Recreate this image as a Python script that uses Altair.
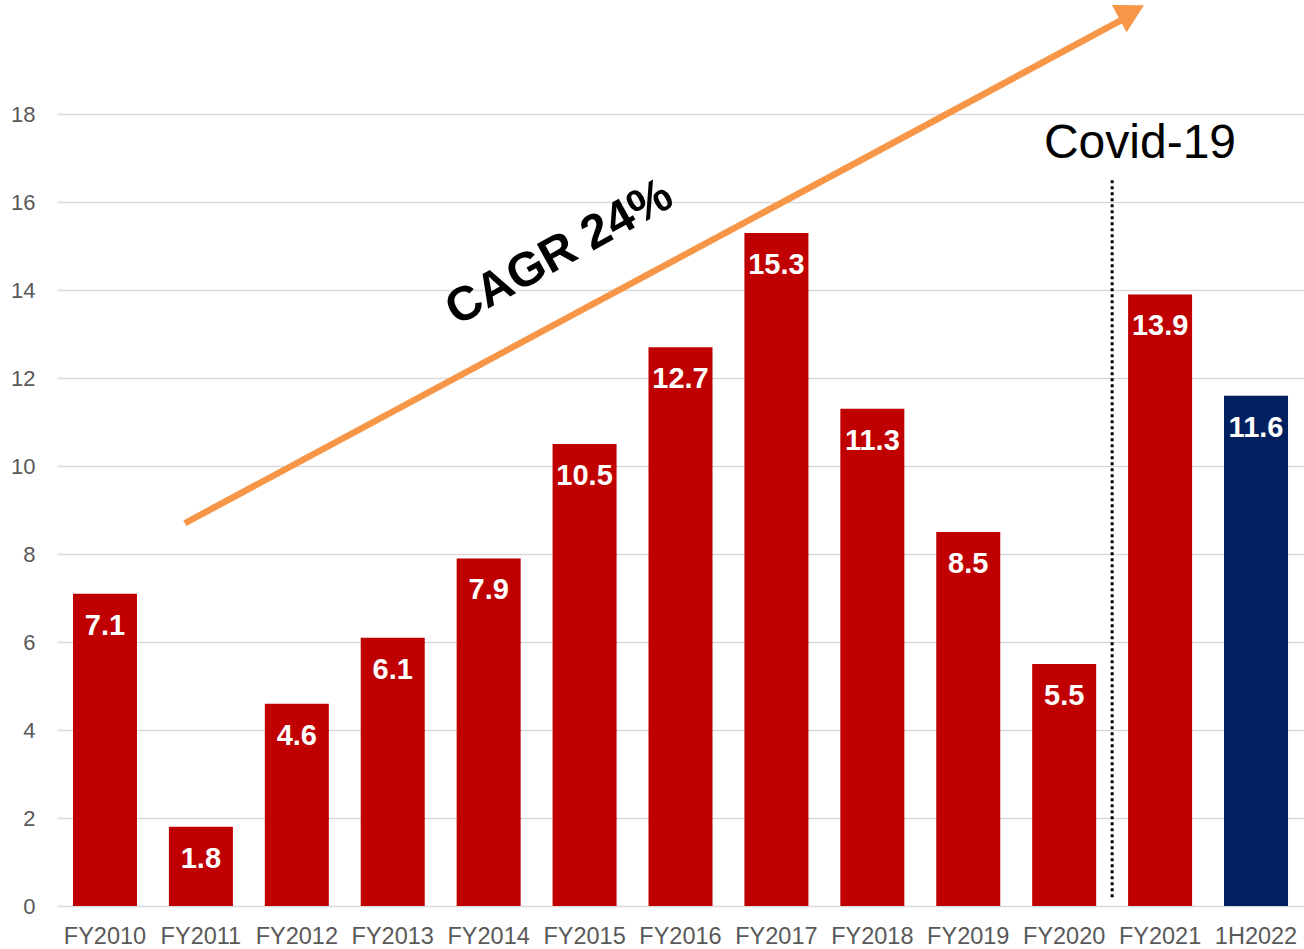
import altair as alt
import pandas as pd

periods = ["FY2010", "FY2011", "FY2012", "FY2013", "FY2014", "FY2015", "FY2016",
           "FY2017", "FY2018", "FY2019", "FY2020", "FY2021", "1H2022"]
values = [7.1, 1.8, 4.6, 6.1, 7.9, 10.5, 12.7, 15.3, 11.3, 8.5, 5.5, 13.9, 11.6]
y_ticks = [0, 2, 4, 6, 8, 10, 12, 14, 16, 18]

df = pd.DataFrame({"period": periods, "value": values})

W, H = 1247, 901
YMAX = 20.48
FONT = "Liberation Sans"

yscale = alt.Scale(domain=[0, YMAX], nice=False, zero=True)
xq = alt.Scale(domain=[0, 13], nice=False, zero=False)
xband = alt.Scale(paddingInner=0.333, paddingOuter=0.1667)
yaxis = alt.Axis(values=y_ticks, ticks=False, domain=False, grid=True,
                 gridColor="#D9D9D9", gridWidth=1.5,
                 labelFontSize=22, labelColor="#595959", labelFont=FONT,
                 labelPadding=22)

bars = alt.Chart(df).mark_bar(size=64).encode(
    x=alt.X("period:N", sort=periods, title=None, scale=xband,
            axis=alt.Axis(labelAngle=0, ticks=False, domain=False, grid=False,
                          labelFontSize=23.5, labelColor="#595959", labelFont=FONT,
                          labelPadding=18)),
    y=alt.Y("value:Q", scale=yscale, title=None, axis=yaxis),
    color=alt.condition(alt.datum.period == "1H2022",
                        alt.value("#002060"), alt.value("#C00000")),
)

labels = alt.Chart(df).mark_text(
    color="white", fontWeight="bold", fontSize=29, font=FONT,
    baseline="middle", dy=32
).encode(
    x=alt.X("period:N", sort=periods, axis=None, scale=xband),
    y=alt.Y("value:Q", scale=yscale, title=None, axis=yaxis),
    text=alt.Text("value:Q", format=".1f"),
)

# Arrow (CAGR trend)
arrow_df = pd.DataFrame({"x": [1.333, 11.10], "y": [8.70, 20.14]})
arrow_line = alt.Chart(arrow_df).mark_line(
    color="#F79646", strokeWidth=6.5, strokeCap="butt"
).encode(
    x=alt.X("x:Q", scale=xq, axis=None),
    y=alt.Y("y:Q", scale=yscale, title=None, axis=yaxis),
)

head_df = pd.DataFrame({"x": [11.3125], "y": [20.45]})
arrow_head = alt.Chart(head_df).mark_point(
    shape="M0,0L-1,-0.55L-1,0.55Z", filled=True, fill="#F79646",
    stroke="#F79646", opacity=1, size=2500, angle=331.6
).encode(
    x=alt.X("x:Q", scale=xq, axis=None),
    y=alt.Y("y:Q", scale=yscale, title=None, axis=yaxis),
)

cagr_df = pd.DataFrame({"x": [5.24], "y": [14.84], "t": ["CAGR 24%"]})
cagr = alt.Chart(cagr_df).mark_text(
    fontSize=48, fontWeight="bold", font=FONT, color="black",
    angle=331, align="center", baseline="middle"
).encode(
    x=alt.X("x:Q", scale=xq, axis=None),
    y=alt.Y("y:Q", scale=yscale, title=None, axis=yaxis),
    text="t:N",
)

covid_df = pd.DataFrame({"x": [11.29], "y": [17.0], "t": ["Covid-19"]})
covid = alt.Chart(covid_df).mark_text(
    fontSize=48, font=FONT, color="black", align="center", baseline="alphabetic"
).encode(
    x=alt.X("x:Q", scale=xq, axis=None),
    y=alt.Y("y:Q", scale=yscale, title=None, axis=yaxis),
    text="t:N",
)

div_df = pd.DataFrame({"x": [11.0], "y": [0.2], "y2": [16.5]})
divider = alt.Chart(div_df).mark_rule(
    color="black", strokeWidth=3, strokeDash=[3, 3]
).encode(
    x=alt.X("x:Q", scale=xq, axis=None),
    y=alt.Y("y:Q", scale=yscale, title=None, axis=yaxis),
    y2="y2:Q",
)

chart = alt.layer(bars, labels, divider, arrow_line, arrow_head, cagr, covid).resolve_scale(
    x="independent"
).properties(
    width=W, height=H,
    background="white",
    autosize=alt.AutoSizeParams(type="none"),
    padding={"left": 57, "top": 5, "right": 0, "bottom": 43},
).configure_view(stroke="transparent", strokeWidth=0).configure_axis(
    domain=False
)

chart.save("out.html", embed_options={"renderer": "svg", "actions": False})
